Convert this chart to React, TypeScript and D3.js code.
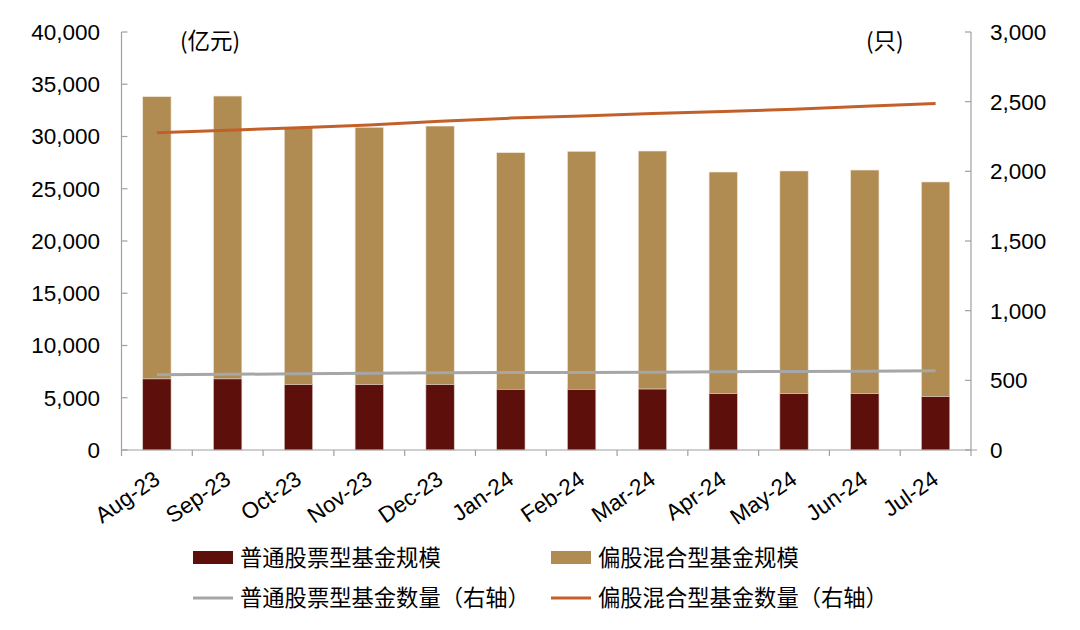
import React from "react";
import * as d3 from "d3";

const months = ["Aug-23","Sep-23","Oct-23","Nov-23","Dec-23","Jan-24","Feb-24","Mar-24","Apr-24","May-24","Jun-24","Jul-24"];
const stockScale = [6800, 6800, 6250, 6250, 6250, 5800, 5800, 5830, 5390, 5390, 5390, 5100];
const totalScale = [33810, 33870, 30880, 30880, 31000, 28450, 28580, 28610, 26600, 26700, 26790, 25650];
const stockCount = [540, 543, 547, 550, 554, 556, 557, 558, 561, 564, 566, 568];
const mixedCount = [2277, 2295, 2312, 2332, 2360, 2382, 2397, 2415, 2430, 2445, 2467, 2487];
const leftTicks = [0, 5000, 10000, 15000, 20000, 25000, 30000, 35000, 40000];
const rightTicks = [0, 500, 1000, 1500, 2000, 2500, 3000];

const W = 1080, H = 630;
const M = { l: 121.5, r: 971, t: 32, b: 450 };
const font = "'Liberation Sans', Arial, sans-serif";
const cjk = "'Noto Sans CJK SC', 'Liberation Sans', sans-serif";
const C = { dark: "#5C0F0B", gold: "#B08B52", grey: "#A6A6A6", orange: "#C3602A", axis: "#A0A0A0" };

export default function App() {
  const xb = d3.scaleBand().domain(months).range([M.l, M.r]);
  const yL = d3.scaleLinear().domain([0, 40000]).range([M.b, M.t]);
  const yR = d3.scaleLinear().domain([0, 3000]).range([M.b, M.t]);
  const fmt = d3.format(",");
  const cx = (m: string) => (xb(m) as number) + xb.bandwidth() / 2;
  const bw = xb.bandwidth() * 0.4;
  const lineFn = d3.line<number>().x((_, i) => cx(months[i])).y(d => yR(d));
  const ticksX = months.map(m => xb(m) as number).concat([M.r]);

  return (
    <svg width={W} height={H} style={{ position: "absolute", left: 0, top: 0, background: "#fff" }}>
      {months.map((m, i) => (
        <g key={m}>
          <rect x={cx(m) - bw / 2} y={yL(totalScale[i])} width={bw} height={yL(stockScale[i]) - yL(totalScale[i])} fill={C.gold} stroke="#efe6d6" strokeWidth={0.6} />
          <rect x={cx(m) - bw / 2} y={yL(stockScale[i])} width={bw} height={M.b - yL(stockScale[i])} fill={C.dark} stroke="#d9c9c0" strokeWidth={0.6} />
        </g>
      ))}
      <line x1={M.l} x2={M.l} y1={M.t} y2={M.b} stroke={C.axis} strokeWidth={1.2} />
      <line x1={M.r} x2={M.r} y1={M.t} y2={M.b} stroke={C.axis} strokeWidth={1.2} />
      <line x1={M.l} x2={M.r + 6} y1={M.b} y2={M.b} stroke={C.axis} strokeWidth={1.2} />
      {leftTicks.map(t => (
        <g key={"l" + t}>
          <line x1={M.l} x2={M.l + 6} y1={yL(t)} y2={yL(t)} stroke={C.axis} strokeWidth={1.2} />
          <text x={100} y={yL(t)} dy="0.35em" textAnchor="end" fontFamily={font} fontSize={22.5} fill="#000">{fmt(t)}</text>
        </g>
      ))}
      {rightTicks.map(t => (
        <g key={"r" + t}>
          <line x1={M.r - 6} x2={M.r} y1={yR(t)} y2={yR(t)} stroke={C.axis} strokeWidth={1.2} />
          <text x={990} y={yR(t)} dy="0.35em" textAnchor="start" fontFamily={font} fontSize={22.5} fill="#000">{fmt(t)}</text>
        </g>
      ))}
      {ticksX.map((t, i) => (
        <line key={"x" + i} x1={t} x2={t} y1={M.b} y2={M.b + 6} stroke={C.axis} strokeWidth={1.2} />
      ))}
      {months.map(m => (
        <text key={"xl" + m} transform={`translate(${cx(m)},${M.b + 26}) rotate(-35)`} textAnchor="end" dy="0.35em" fontFamily={font} fontSize={22.5} fill="#000">{m}</text>
      ))}
      <path d={lineFn(stockCount) as string} fill="none" stroke={C.grey} strokeWidth={3} />
      <path d={lineFn(mixedCount) as string} fill="none" stroke={C.orange} strokeWidth={3} />
      <text x={180} y={41} dy="0.35em" fontFamily={cjk} fontSize={22.5} fill="#000">(亿元)</text>
      <text x={866} y={41} dy="0.35em" fontFamily={cjk} fontSize={22.5} fill="#000">(只)</text>
      <rect x={193} y={551} width={40} height={13} fill={C.dark} />
      <text x={240} y={558} dy="0.35em" fontFamily={cjk} fontSize={22.3} fill="#000">普通股票型基金规模</text>
      <rect x={551} y={551} width={40} height={13} fill={C.gold} />
      <text x={598} y={558} dy="0.35em" fontFamily={cjk} fontSize={22.3} fill="#000">偏股混合型基金规模</text>
      <line x1={193} x2={233} y1={598} y2={598} stroke={C.grey} strokeWidth={3} />
      <text x={240} y={598} dy="0.35em" fontFamily={cjk} fontSize={22.3} fill="#000">普通股票型基金数量（右轴）</text>
      <line x1={551} x2={591} y1={598} y2={598} stroke={C.orange} strokeWidth={3} />
      <text x={598} y={598} dy="0.35em" fontFamily={cjk} fontSize={22.3} fill="#000">偏股混合型基金数量（右轴）</text>
    </svg>
  );
}
